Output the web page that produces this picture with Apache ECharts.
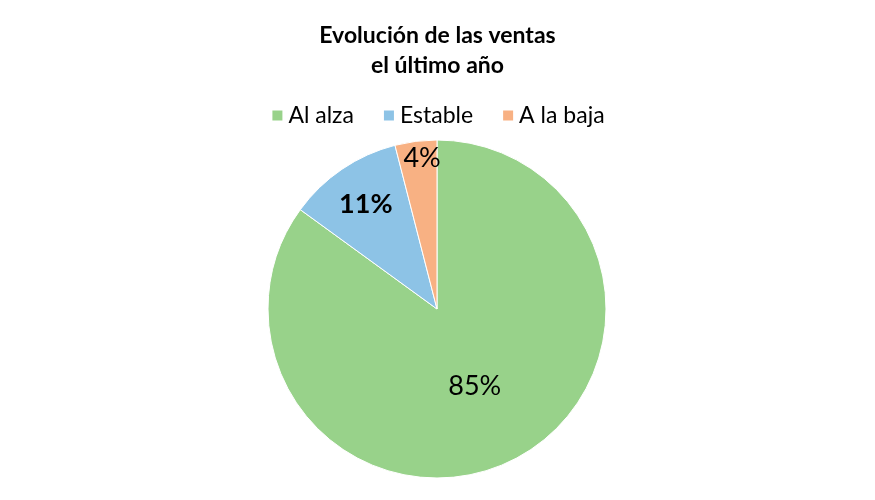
<!DOCTYPE html>
<html>
<head>
<meta charset="utf-8">
<script src="https://cdn.jsdelivr.net/npm/echarts@6/dist/echarts.min.js"></script>
<style>
html,body{margin:0;padding:0;background:#fff;}
#chart{width:875px;height:500px;}
</style>
</head>
<body>
<div id="chart"></div>
<script>
// datos del gráfico
var categorias = ['Al alza', 'Estable', 'A la baja'];
var valores = [85, 11, 4];
var colores = ['#98D28A', '#8DC3E6', '#F8B183'];
// desplazamiento de etiquetas (Excel las coloca más hacia fuera)
var desplazamientos = [[-2, -1], [-22, -32], [-4, -64]];

var chart = echarts.init(document.getElementById('chart'));

var datos = categorias.map(function (c, i) {
  return {
    name: c,
    value: valores[i],
    itemStyle: { color: colores[i] },
    label: { offset: desplazamientos[i], fontWeight: i === 1 ? 'bold' : 'normal' }
  };
});

chart.setOption({
  animation: false,
  title: {
    text: 'Evolución de las ventas\nel último año',
    left: 'center',
    top: 16,
    textStyle: {
      fontFamily: 'Lato',
      fontWeight: 'bold',
      fontSize: 23,
      lineHeight: 30,
      color: '#000'
    }
  },
  legend: {
    data: categorias,
    top: 99,
    left: 'center',
    itemWidth: 12,
    itemHeight: 12,
    itemGap: 28,
    icon: 'rect',
    textStyle: { fontFamily: 'Lato', fontSize: 23, color: '#000' }
  },
  series: [{
    type: 'pie',
    center: [437, 309],
    radius: 169,
    startAngle: 90,
    clockwise: true,
    itemStyle: { borderColor: '#fff', borderWidth: 1 },
    label: {
      position: 'inside',
      formatter: '{c}%',
      fontFamily: 'Lato',
      fontSize: 27,
      color: '#000'
    },
    labelLine: { show: false },
    emphasis: { disabled: true },
    data: datos
  }]
});
</script>
</body>
</html>
